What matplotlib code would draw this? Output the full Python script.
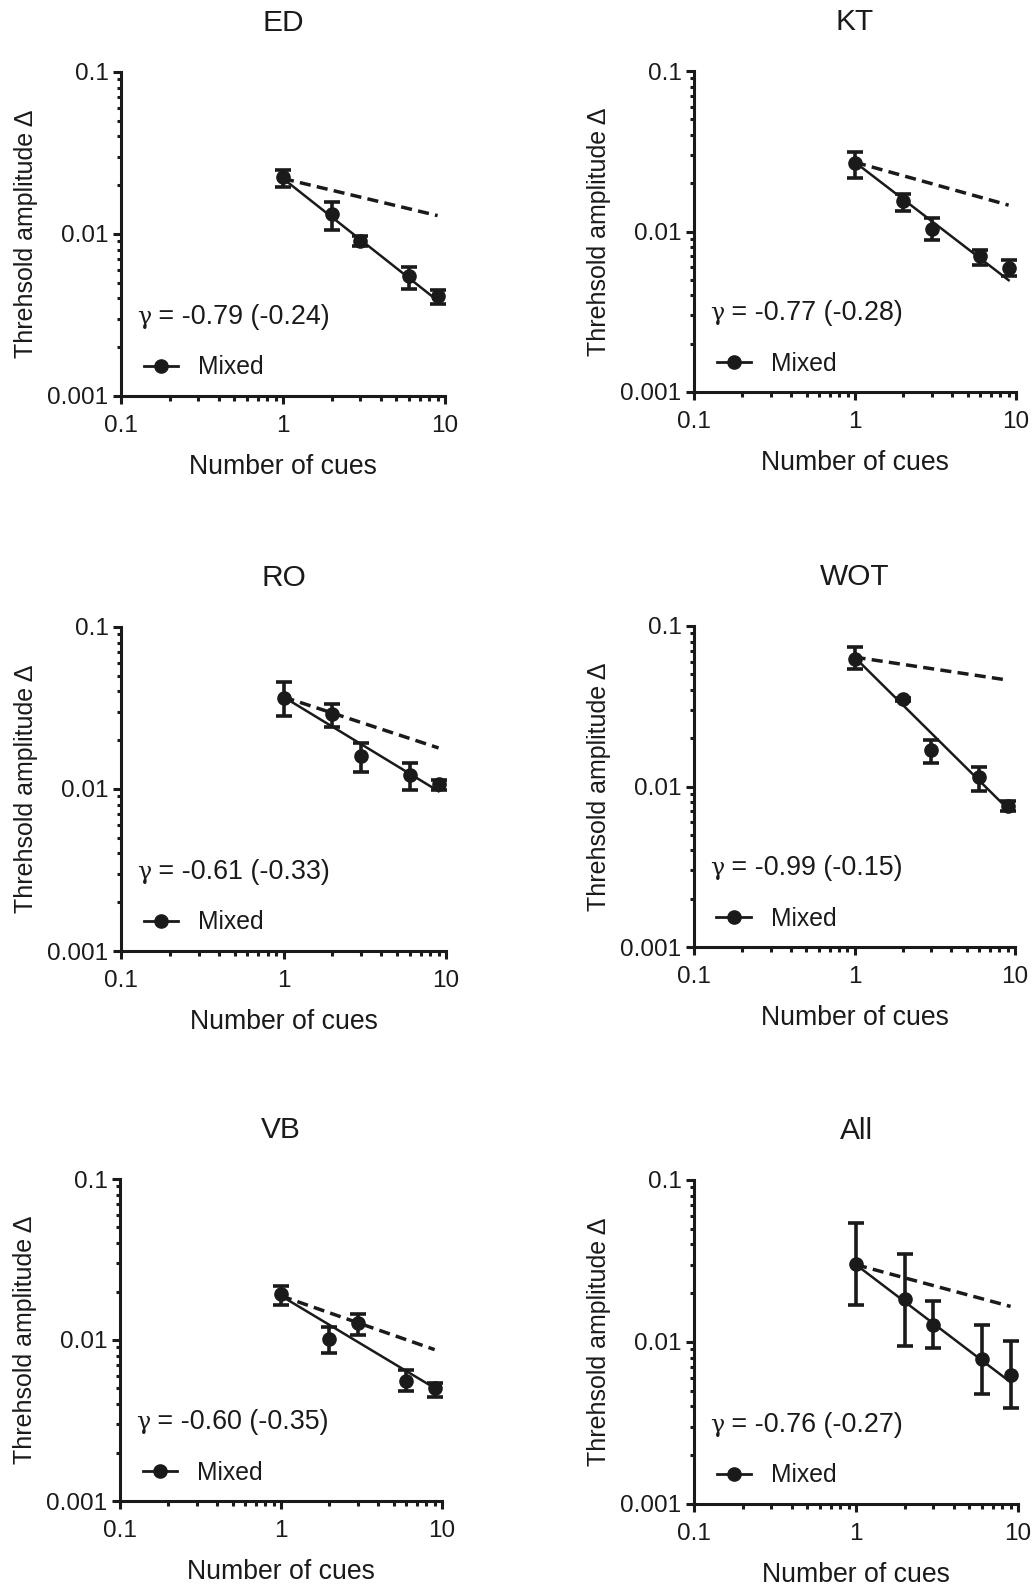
import matplotlib
matplotlib.use("Agg")
import matplotlib.pyplot as plt
import numpy as np
from matplotlib.lines import Line2D
from matplotlib.ticker import LogLocator, FixedLocator, FixedFormatter, NullFormatter
from matplotlib.offsetbox import TextArea, HPacker, AnchoredOffsetbox

plt.rcParams['font.family'] = ['Liberation Sans', 'DejaVu Sans']

# ---------------- data ----------------
x_cues = [1, 2, 3, 6, 9]

panel_names = ["ED", "KT", "RO", "WOT", "VB", "All"]

ED_mean = [0.0225, 0.0133, 0.0091, 0.0055, 0.00415]
ED_hi = [0.0250, 0.0157, 0.0097, 0.0063, 0.0045]
ED_lo = [0.0196, 0.0106, 0.0084, 0.0046, 0.0037]

KT_mean = [0.0266, 0.0154, 0.01035, 0.0070, 0.0059]
KT_hi = [0.0315, 0.0171, 0.0121, 0.0077, 0.0066]
KT_lo = [0.0215, 0.0135, 0.0088, 0.0062, 0.00525]

RO_mean = [0.0367, 0.0290, 0.0160, 0.0122, 0.0108]
RO_hi = [0.0459, 0.0333, 0.0193, 0.0144, 0.0114]
RO_lo = [0.0282, 0.0243, 0.0127, 0.0098, 0.0098]

WOT_mean = [0.0620, 0.0350, 0.0168, 0.0115, 0.0076]
WOT_hi = [0.0743, 0.0358, 0.0195, 0.0133, 0.0081]
WOT_lo = [0.0537, 0.0342, 0.0140, 0.0094, 0.0070]

VB_mean = [0.0193, 0.0102, 0.0127, 0.0056, 0.0050]
VB_hi = [0.0218, 0.0120, 0.0145, 0.0065, 0.0054]
VB_lo = [0.0165, 0.0083, 0.0107, 0.0048, 0.0044]

All_mean = [0.0303, 0.0185, 0.0128, 0.0079, 0.0063]
All_hi = [0.0546, 0.0350, 0.0178, 0.0128, 0.0101]
All_lo = [0.0169, 0.0095, 0.0092, 0.0048, 0.0039]

# fitted exponent gamma and (reference exponent), with fit value at x = 1
gamma_fit = [-0.79, -0.77, -0.61, -0.99, -0.60, -0.76]
gamma_ref = [-0.24, -0.28, -0.33, -0.15, -0.35, -0.27]
fit_at_1 = [0.0220, 0.0270, 0.0370, 0.0640, 0.0188, 0.0300]
fit_x_range = [1, 9]

x_ticks = [0.1, 1, 10]
x_ticklabels = ["0.1", "1", "10"]
y_ticks = [0.001, 0.01, 0.1]
y_ticklabels = ["0.001", "0.01", "0.1"]

means = [ED_mean, KT_mean, RO_mean, WOT_mean, VB_mean, All_mean]
his = [ED_hi, KT_hi, RO_hi, WOT_hi, VB_hi, All_hi]
los = [ED_lo, KT_lo, RO_lo, WOT_lo, VB_lo, All_lo]

# ---------------- layout (pixel boxes: left, top, right, bottom) ----------------
W, H = 1033, 1585
boxes = [
    (121, 72, 445, 396),
    (694, 71, 1016, 392),
    (121, 627, 446, 951),
    (694, 626, 1015, 947),
    (120, 1179, 442, 1501),
    (694, 1180, 1018, 1504),
]

fig = plt.figure(figsize=(W / 100, H / 100), dpi=100)

C = '#1a1a1a'
LW_AX = 2.2
for i, name in enumerate(panel_names):
    l, t, r, b = boxes[i]
    ax = fig.add_axes([l / W, 1 - b / H, (r - l) / W, (b - t) / H])
    ax.set_xscale('log')
    ax.set_yscale('log')
    ax.set_xlim(0.1, 10)
    ax.set_ylim(0.001, 0.1)

    xs = np.array(fit_x_range, dtype=float)
    xl = np.geomspace(xs[0], xs[1], 50)
    ax.plot(xl, fit_at_1[i] * xl ** gamma_ref[i], color=C, lw=2.5,
            linestyle=(0, (3.2, 1.8)), solid_capstyle='butt', zorder=2)
    ax.plot(xl, fit_at_1[i] * xl ** gamma_fit[i], color=C, lw=1.8, zorder=3)

    m = np.array(means[i])
    yerr = np.vstack([m - np.array(los[i]), np.array(his[i]) - m])
    ax.errorbar(x_cues, m, yerr=yerr, fmt='o', color=C, ms=9.5,
                elinewidth=2.6, capsize=5.5, capthick=2.6, zorder=4)

    for side in ['top', 'right']:
        ax.spines[side].set_visible(False)
    for side in ['left', 'bottom']:
        ax.spines[side].set_linewidth(LW_AX)
        ax.spines[side].set_color(C)

    ax.xaxis.set_major_locator(FixedLocator(x_ticks))
    ax.xaxis.set_major_formatter(FixedFormatter(x_ticklabels))
    ax.yaxis.set_major_locator(FixedLocator(y_ticks))
    ax.yaxis.set_major_formatter(FixedFormatter(y_ticklabels))
    ax.xaxis.set_minor_locator(LogLocator(base=10, subs=np.arange(2, 10), numticks=20))
    ax.yaxis.set_minor_locator(LogLocator(base=10, subs=np.arange(2, 10), numticks=20))
    ax.xaxis.set_minor_formatter(NullFormatter())
    ax.yaxis.set_minor_formatter(NullFormatter())

    ax.tick_params(axis='both', which='major', length=6, width=LW_AX, color=C,
                   labelsize=17.5, labelcolor=C)
    ax.tick_params(axis='x', which='major', pad=7.5)
    ax.tick_params(axis='y', which='major', pad=3)
    ax.tick_params(axis='x', which='minor', length=3.5, width=LW_AX, color=C)
    ax.tick_params(axis='y', which='minor', length=3, width=LW_AX, color=C)

    ax.set_xlabel("Number of cues", fontsize=19.2, color=C, labelpad=12.5)
    ax.set_ylabel("Threhsold amplitude \u0394", fontsize=18, color=C, labelpad=7)
    ax.set_title(name, fontsize=21.5, color=C, pad=29.5)

    g1 = TextArea("\u03b3", textprops=dict(family='DejaVu Serif', size=17, color=C))
    g2 = TextArea(" = %.2f (%.2f)" % (gamma_fit[i], gamma_ref[i]),
                  textprops=dict(size=19.4, color=C))
    pack = HPacker(children=[g1, g2], align='baseline', pad=0, sep=0)
    anch = AnchoredOffsetbox(loc='lower left', child=pack, pad=0, borderpad=0,
                             frameon=False, bbox_to_anchor=(0.05, 0.205),
                             bbox_transform=ax.transAxes)
    ax.add_artist(anch)

    handle = Line2D([], [], color=C, lw=2.0, marker='o', ms=9.5)
    ax.legend([handle], ["Mixed"], loc='center left', bbox_to_anchor=(0.07, 0.088),
              frameon=False, fontsize=17.8, handlelength=1.4, handletextpad=0.8,
              borderpad=0, borderaxespad=0, labelcolor=C)

fig.savefig("out.png", dpi=100, facecolor='white')
